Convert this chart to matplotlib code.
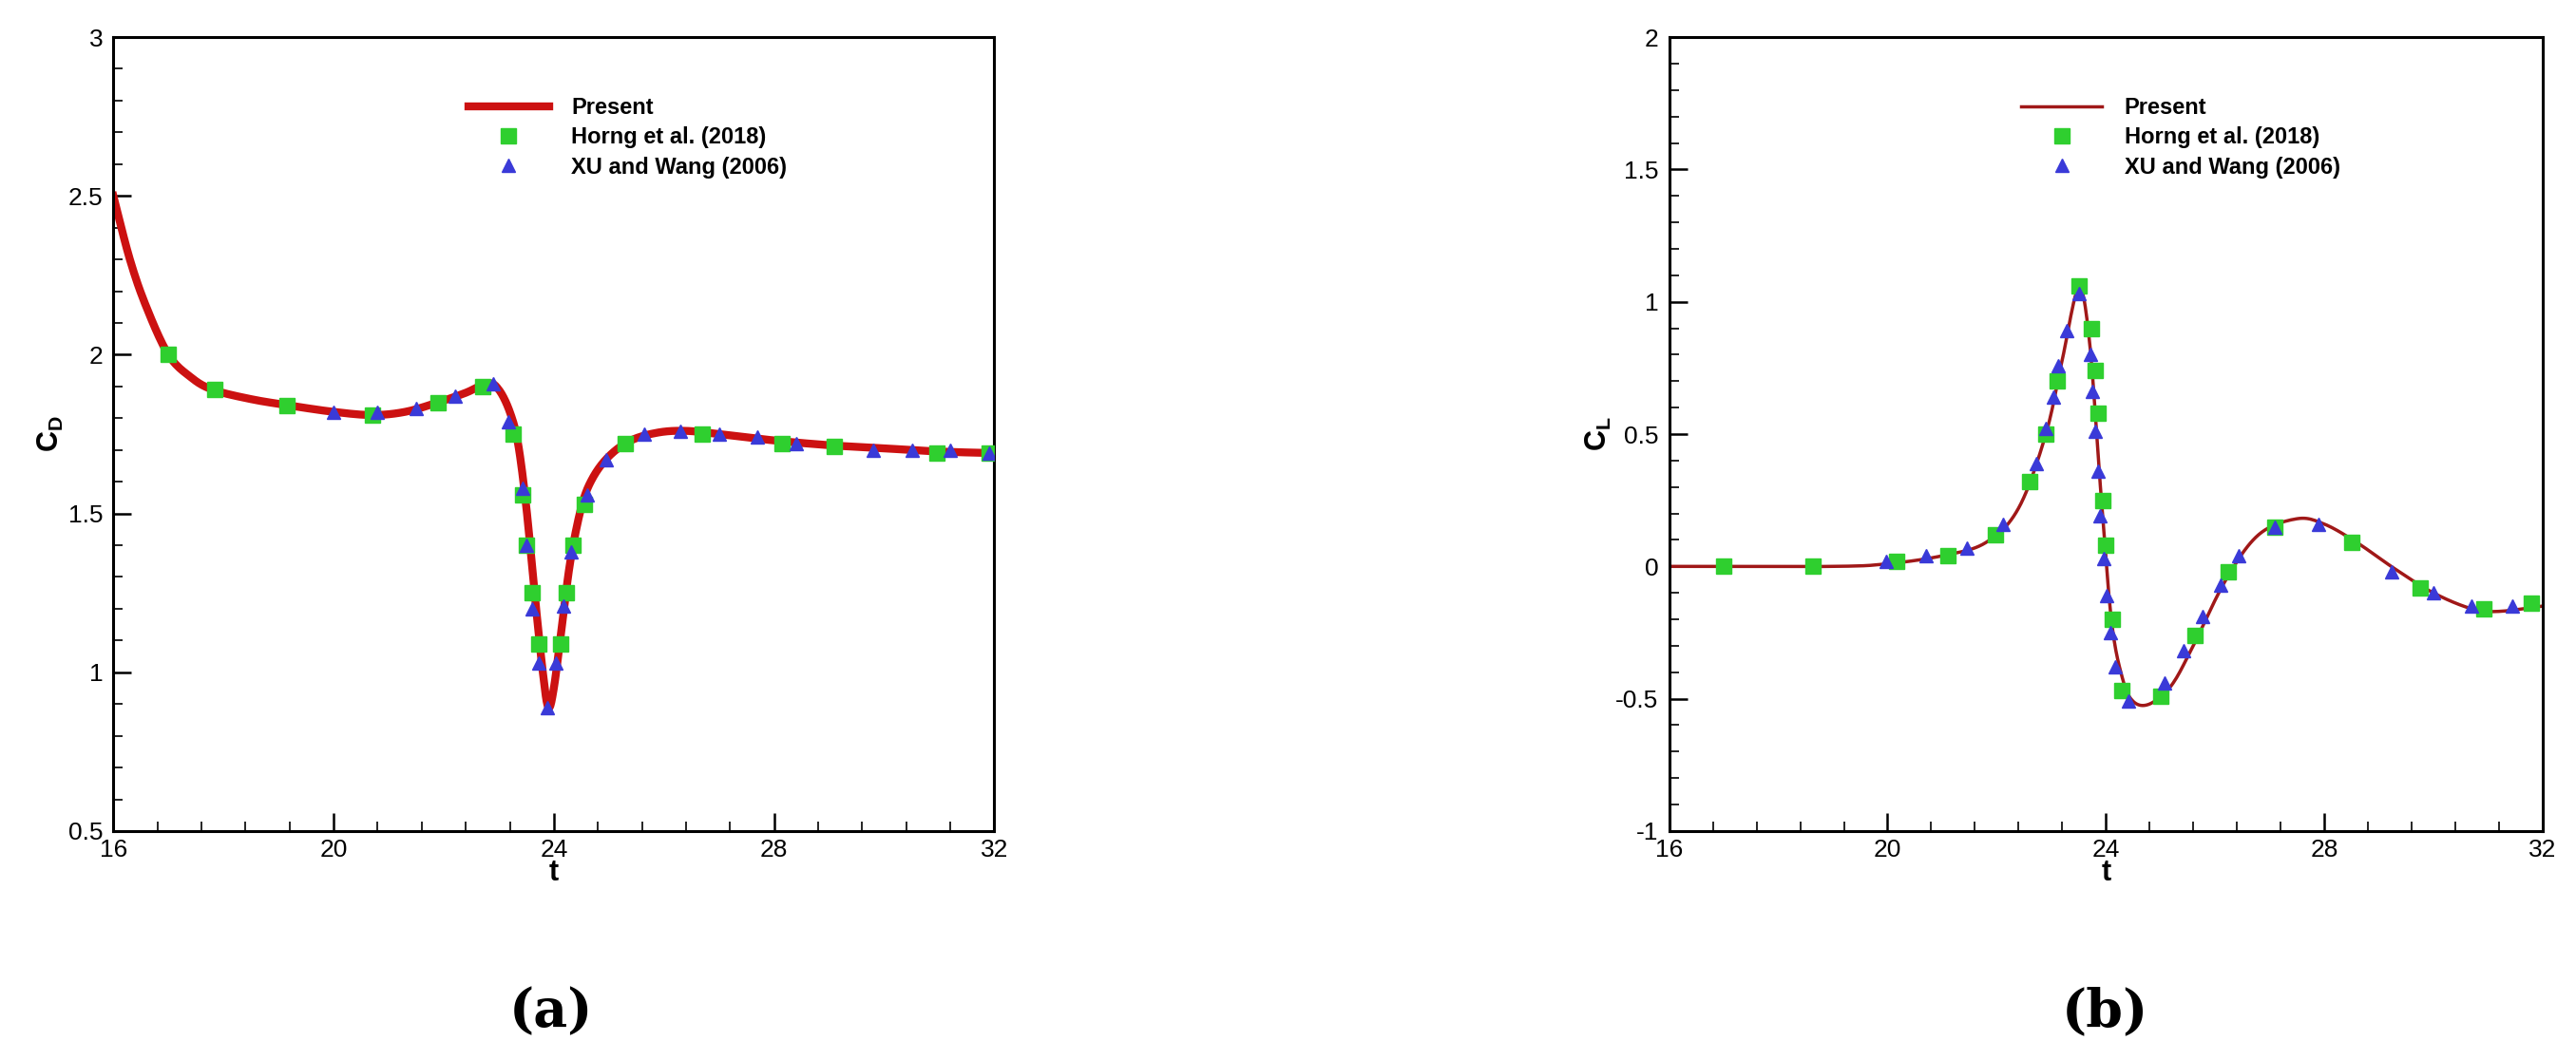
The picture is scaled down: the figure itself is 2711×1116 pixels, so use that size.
import matplotlib; matplotlib.use("Agg")
import matplotlib.pyplot as plt
import numpy as np
from matplotlib.ticker import MultipleLocator

# ---- (a) drag coefficient ----
A_T = [16, 16.3, 16.6, 17, 17.4, 17.8, 18.5, 19.2, 20, 20.7, 21.3, 21.9, 22.4, 22.8, 23.0, 23.2, 23.35,
       23.5, 23.65, 23.8, 23.9, 24.0, 24.15, 24.3, 24.5, 24.7, 25.0, 25.4, 25.9, 26.4, 27, 28, 29, 30, 31, 32]
A_CD = [2.5, 2.3, 2.15, 2.0, 1.93, 1.89, 1.86, 1.84, 1.82, 1.81, 1.82, 1.85, 1.88, 1.91, 1.89, 1.82, 1.72,
        1.52, 1.25, 1.0, 0.89, 0.95, 1.15, 1.35, 1.52, 1.61, 1.68, 1.73, 1.755, 1.76, 1.75, 1.73, 1.715, 1.705, 1.695, 1.69]
A_SQ_T = [17.0, 17.84, 19.15, 20.7, 21.9, 22.7, 23.26, 23.43, 23.5, 23.6, 23.72, 24.13, 24.23, 24.35, 24.56,
          25.3, 26.7, 28.15, 29.1, 30.95, 31.9]
A_SQ_V = [2.0, 1.89, 1.84, 1.81, 1.85, 1.9, 1.75, 1.56, 1.4, 1.25, 1.09, 1.09, 1.25, 1.4, 1.53,
          1.72, 1.75, 1.72, 1.71, 1.69, 1.69]
A_TR_T = [20.0, 20.8, 21.5, 22.2, 22.9, 23.17, 23.43, 23.5, 23.6, 23.72, 23.88, 24.04, 24.17, 24.32, 24.6,
          24.95, 25.65, 26.3, 27.0, 27.7, 28.4, 29.8, 30.5, 31.2, 31.9]
A_TR_V = [1.82, 1.82, 1.83, 1.87, 1.91, 1.79, 1.58, 1.4, 1.2, 1.03, 0.89, 1.03, 1.21, 1.38, 1.56,
          1.67, 1.75, 1.76, 1.75, 1.74, 1.72, 1.70, 1.70, 1.70, 1.69]

# ---- (b) lift coefficient ----
B_T = [16, 19, 20, 21, 21.8, 22.4, 22.9, 23.2, 23.5, 23.7, 23.9, 24.1, 24.3, 24.5, 24.8, 25.2, 25.6,
       26.2, 26.8, 27.5, 28, 28.6, 29.3, 30, 30.7, 31.2, 32]
B_CL = [0, 0, 0.01, 0.04, 0.09, 0.22, 0.5, 0.78, 1.05, 0.85, 0.3, -0.2, -0.42, -0.51, -0.52, -0.45, -0.3,
        -0.05, 0.12, 0.18, 0.16, 0.09, -0.01, -0.1, -0.16, -0.17, -0.15]
B_SQ_T = [17.0, 18.64, 20.17, 21.1, 21.97, 22.6, 22.9, 23.1, 23.5, 23.73, 23.8, 23.86, 23.95, 24.0, 24.12,
          24.3, 25.0, 25.63, 26.25, 27.1, 28.5, 29.75, 30.93, 31.8]
B_SQ_V = [0, 0, 0.02, 0.04, 0.12, 0.32, 0.5, 0.7, 1.06, 0.9, 0.74, 0.58, 0.25, 0.08, -0.2,
          -0.47, -0.49, -0.26, -0.02, 0.15, 0.09, -0.08, -0.16, -0.14]
B_TR_T = [19.98, 20.7, 21.45, 22.12, 22.72, 22.9, 23.04, 23.13, 23.28, 23.5, 23.72, 23.76, 23.8, 23.86, 23.9,
          23.96, 24.02, 24.08, 24.17, 24.42, 25.08, 25.43, 25.78, 26.1, 26.44, 27.1, 27.9, 29.24, 30.0, 30.7, 31.45]
B_TR_V = [0.02, 0.04, 0.07, 0.16, 0.39, 0.52, 0.64, 0.76, 0.89, 1.03, 0.8, 0.66, 0.51, 0.36, 0.19,
          0.03, -0.11, -0.25, -0.38, -0.51, -0.44, -0.32, -0.19, -0.07, 0.04, 0.15, 0.16, -0.02, -0.1, -0.15, -0.15]

LABELS = ["Present", "Horng et al. (2018)", "XU and Wang (2006)"]
GREEN = "#2fcf2f"; BLUE = "#3a3ad8"
plt.rcParams["font.family"] = "Liberation Sans"


def smooth(x, y, n=12):
    # Catmull-Rom through the read points, just for a smooth drawn curve
    x = np.asarray(x, float); y = np.asarray(y, float)
    xs, ys = [], []
    for i in range(len(x) - 1):
        p0 = i - 1 if i > 0 else i
        p3 = i + 2 if i + 2 < len(x) else i + 1
        s = np.linspace(0, 1, n, endpoint=False)
        for arr, out in ((x, xs), (y, ys)):
            a0, a1, a2, a3 = arr[p0], arr[i], arr[i + 1], arr[p3]
            out.extend(0.5 * (2 * a1 + (-a0 + a2) * s + (2 * a0 - 5 * a1 + 4 * a2 - a3) * s**2
                              + (-a0 + 3 * a1 - 3 * a2 + a3) * s**3))
    xs.append(x[-1]); ys.append(y[-1])
    return xs, ys


def panel(ax, t, v, sqt, sqv, trt, trv, ylim, ylabel, lcol, lw, leg_anchor):
    xs, ys = smooth(t, v)
    ax.plot(xs, ys, color=lcol, lw=lw, label=LABELS[0], zorder=2)
    ax.plot(sqt, sqv, "s", color=GREEN, ms=11, ls="none", label=LABELS[1], zorder=3)
    ax.plot(trt, trv, "^", color=BLUE, ms=10, ls="none", label=LABELS[2], zorder=4)
    ax.set_xlim(16, 32); ax.set_ylim(*ylim)
    ax.xaxis.set_major_locator(MultipleLocator(4)); ax.xaxis.set_minor_locator(MultipleLocator(0.8))
    ax.yaxis.set_major_locator(MultipleLocator(0.5)); ax.yaxis.set_minor_locator(MultipleLocator(0.1))
    ax.tick_params(which="both", direction="in", top=False, right=False, labelsize=19)
    ax.tick_params(axis="x", pad=6)
    ax.tick_params(axis="y", pad=8)
    ax.tick_params(which="major", length=14, width=1.8)
    ax.tick_params(which="minor", length=7, width=1.2)
    ax.yaxis.set_major_formatter(plt.FuncFormatter(lambda v, p: f"{v:g}"))
    for s in ax.spines.values():
        s.set_linewidth(2.2)
    ax.set_xlabel("t", fontsize=22, fontweight="bold", labelpad=-2)
    ax.set_ylabel(ylabel, fontsize=22, fontweight="bold", labelpad=2)
    leg = ax.legend(loc="upper left", bbox_to_anchor=leg_anchor, frameon=False, fontsize=17,
                    handlelength=3.6, handletextpad=1.0, labelspacing=0.35)
    for txt in leg.get_texts():
        txt.set_fontweight("bold")


fig = plt.figure(figsize=(27.11, 11.16), dpi=100)
ax1 = fig.add_axes([0.044, 0.216, 0.342, 0.749])
ax2 = fig.add_axes([0.648, 0.216, 0.339, 0.749])
panel(ax1, A_T, A_CD, A_SQ_T, A_SQ_V, A_TR_T, A_TR_V, (0.5, 3), r"C$_\mathregular{D}$", "#cc1111", 6,
      (0.38, 0.95))
panel(ax2, B_T, B_CL, B_SQ_T, B_SQ_V, B_TR_T, B_TR_V, (-1, 2), r"C$_\mathregular{L}$", "#a01818", 2.5,
      (0.38, 0.95))

fig.text(0.214, 0.045, "(a)", ha="center", va="center", fontsize=40, fontweight="bold", family="DejaVu Serif")
fig.text(0.817, 0.045, "(b)", ha="center", va="center", fontsize=40, fontweight="bold", family="DejaVu Serif")
fig.savefig("out.png", dpi=100, facecolor="white")
